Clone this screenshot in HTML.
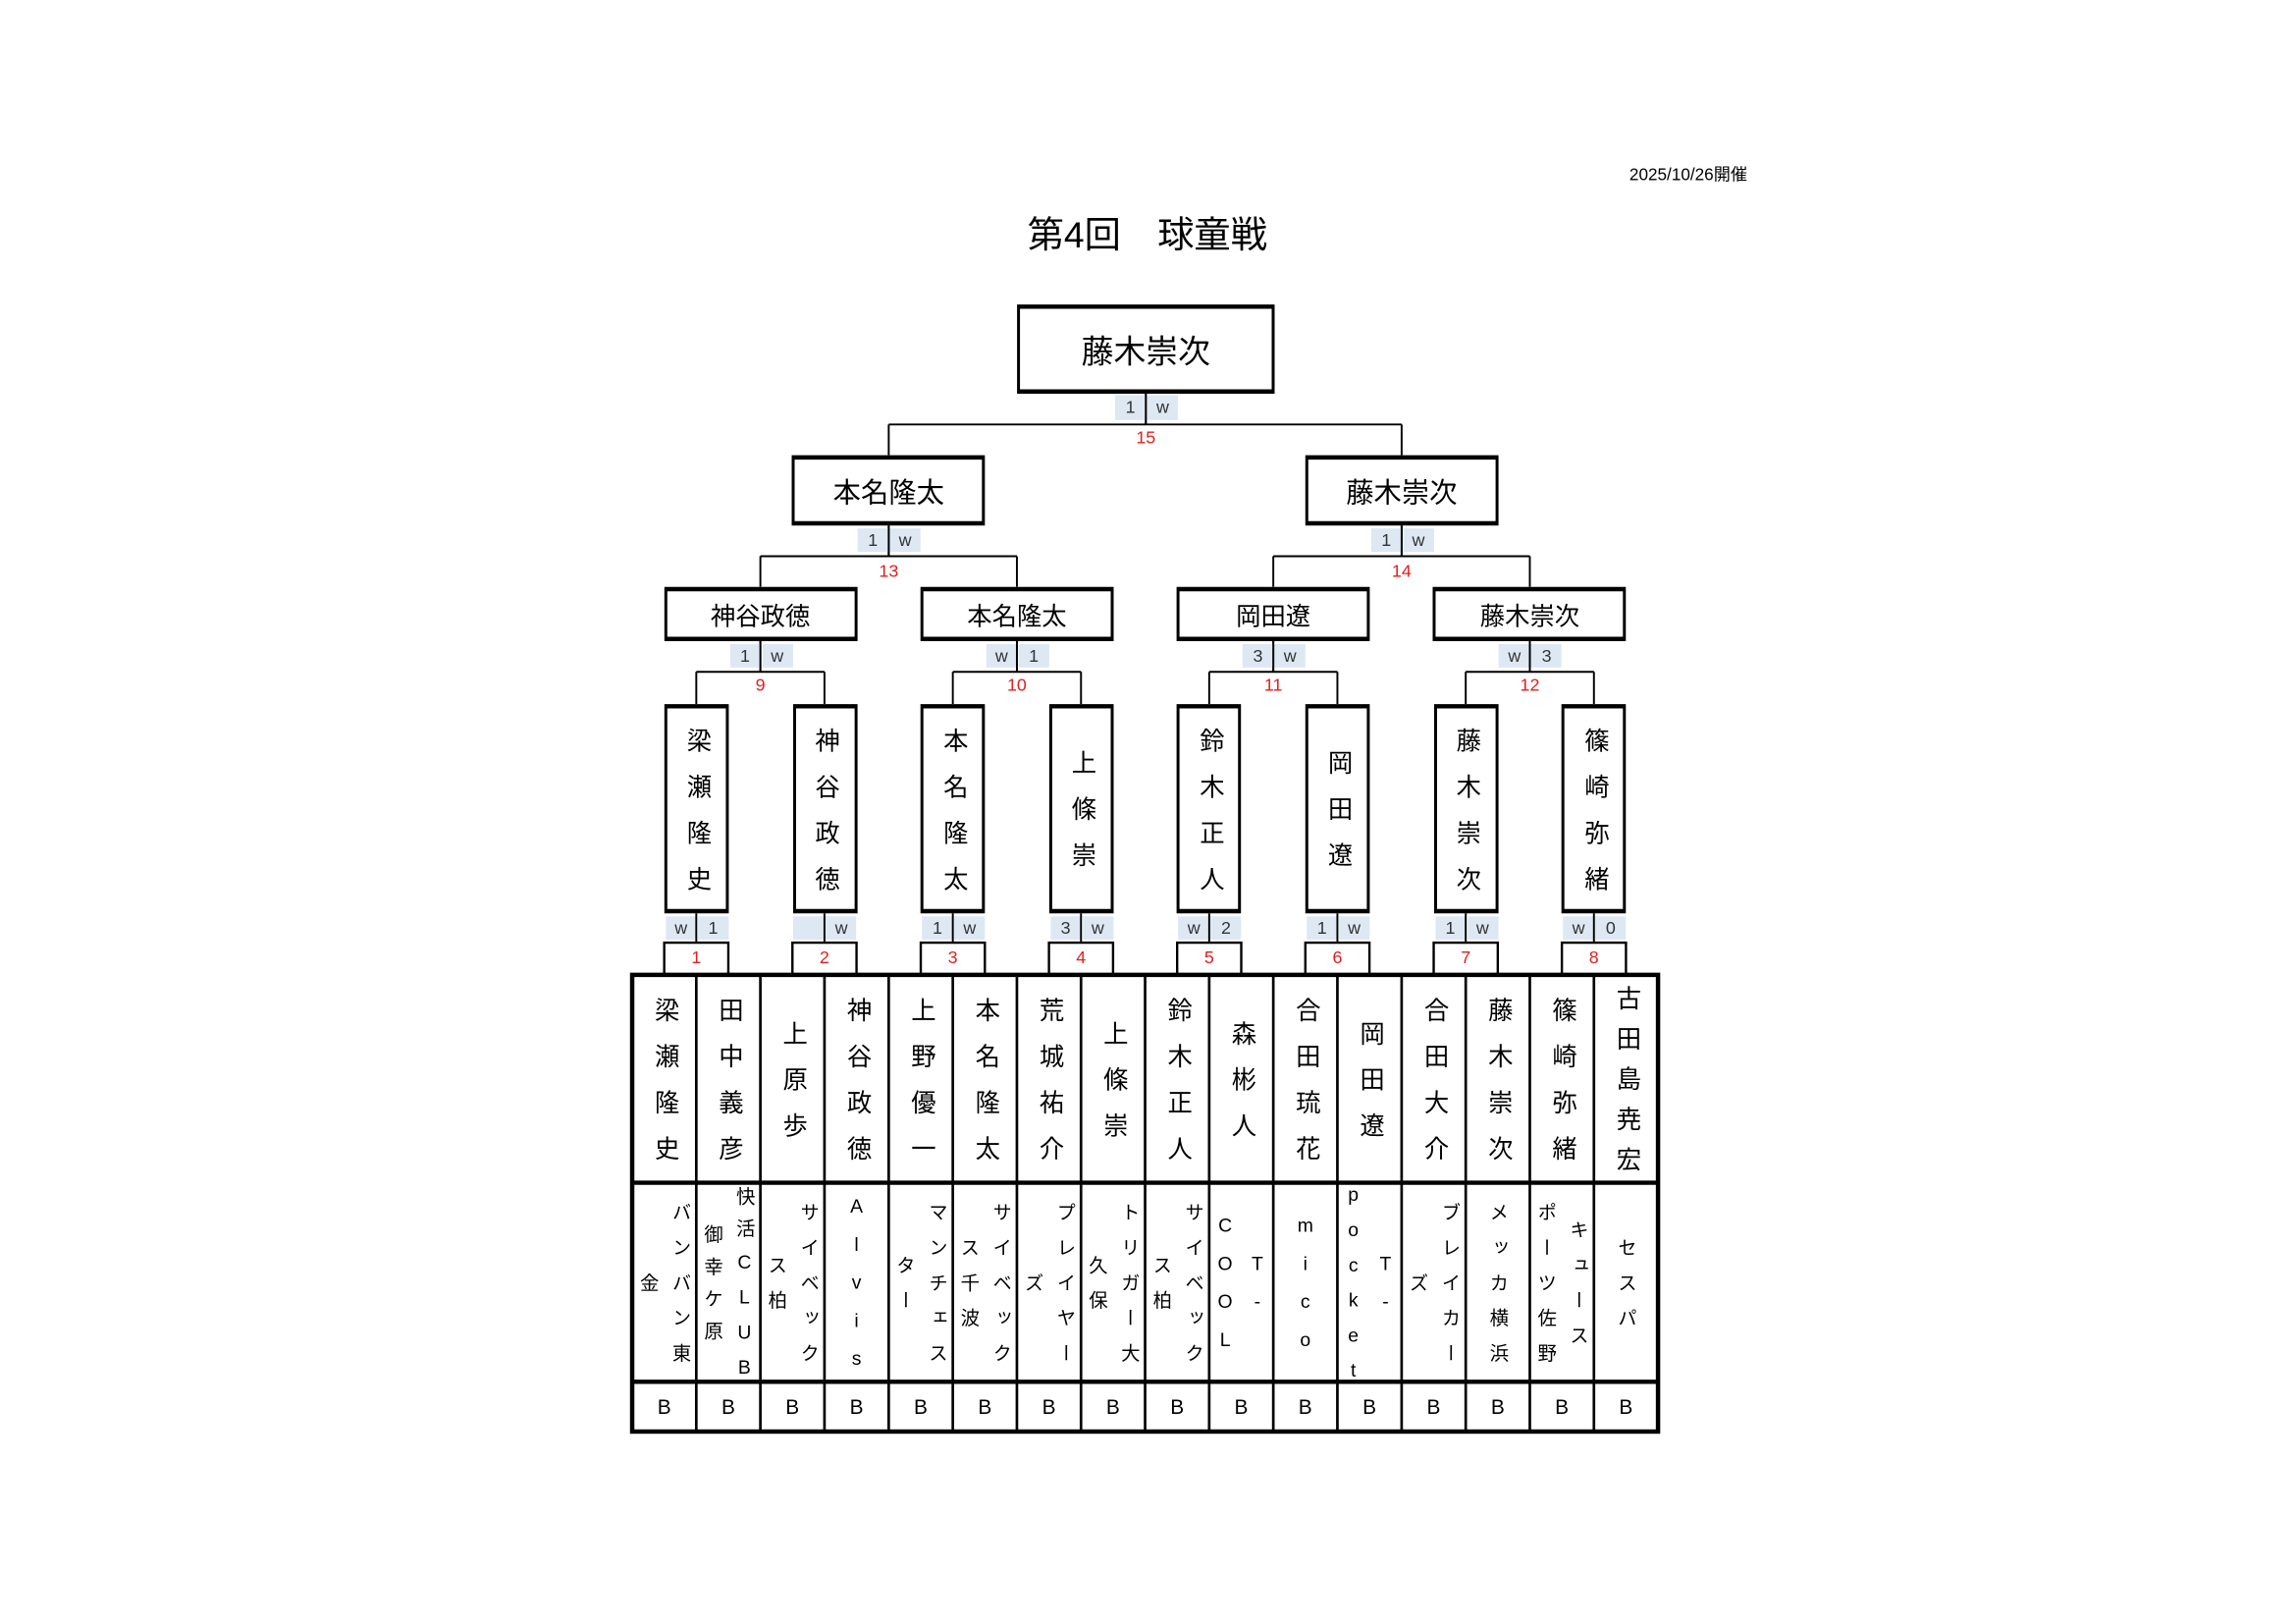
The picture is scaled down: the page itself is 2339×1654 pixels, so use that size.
<!DOCTYPE html>
<html><head><meta charset="utf-8">
<style>
html,body{margin:0;padding:0;background:#fff;width:2339px;height:1654px;overflow:hidden}
#c{position:absolute;left:0;top:0;width:1560px;height:1103px;transform:scale(1.4908);transform-origin:0 0;font-family:"Liberation Sans","Noto Sans CJK JP",sans-serif;color:#000}
.a{position:absolute}
.bx{position:absolute;box-sizing:border-box;border-style:solid;border-color:#000;border-width:3px 2.4px;background:#fff;display:flex;align-items:center;justify-content:center;overflow:visible}
.v{writing-mode:vertical-rl;text-orientation:upright;line-height:1;white-space:nowrap}
.cell{position:absolute;display:flex;align-items:center;justify-content:center}
.sc{position:absolute;background:#dde8f3;font-size:12px;color:#333;text-align:center;line-height:16px;height:16px;width:21px}
.r{position:absolute;color:#e02020;font-size:12px;text-align:center;width:30px;line-height:14px}
.t{font-size:13px;letter-spacing:11px;transform:translateY(5.5px)}
.t6{font-size:13px;letter-spacing:9px;transform:translateY(4.5px)}
.n{font-size:17px;letter-spacing:14.5px;transform:translateY(7.25px)}
.n5{font-size:17px;letter-spacing:10.5px;transform:translateY(5.25px)}
.b{position:absolute;font-size:14px;text-align:center;width:43.8px;top:944px;line-height:34px}
</style></head><body><div id="c">

<div class="a" style="left:1080px;top:111px;width:114px;text-align:right;font-size:11.5px">2025/10/26開催</div>
<div class="a" style="left:600px;top:141px;width:368px;text-align:center;font-size:25px">第4回　球童戦</div>

<svg class="a" style="left:0;top:0" width="1560" height="1103" viewBox="0 0 1560 1103">
<g stroke="#000" stroke-width="1.3" fill="none">
<path d="M783 268V290M607.3 290H957.8M607.3 290V311M957.8 290V311"/>
<path d="M607.3 358V380M519.6 380H694.9M519.6 380V401M694.9 380V401"/>
<path d="M957.8 358V380M870.1 380H1045.4M870.1 380V401M1045.4 380V401"/>
<path d="M519.6 437V459M694.9 437V459M870.1 437V459M1045.4 437V459"/>
<path d="M475.8 459H563.4M651.1 459H738.7M826.3 459H913.9M1001.6 459H1089.2"/>
<path d="M475.8 459V481M563.4 459V481M651.1 459V481M738.7 459V481M826.3 459V481M913.9 459V481M1001.6 459V481M1089.2 459V481"/>
</g>
<g stroke="#000" stroke-width="1.6" fill="none">
<rect x="453.9" y="644" width="43.8" height="22"/>
<rect x="541.5" y="644" width="43.8" height="22"/>
<rect x="629.2" y="644" width="43.8" height="22"/>
<rect x="716.8" y="644" width="43.8" height="22"/>
<rect x="804.4" y="644" width="43.8" height="22"/>
<rect x="892" y="644" width="43.8" height="22"/>
<rect x="979.7" y="644" width="43.8" height="22"/>
<rect x="1067.3" y="644" width="43.8" height="22"/>
</g>
<g stroke="#000" stroke-width="1.8">
<path d="M475.8 666V978M519.6 666V978M563.4 666V978M607.3 666V978M651.1 666V978M694.9 666V978M738.7 666V978M782.5 666V978M826.3 666V978M870.1 666V978M913.9 666V978M957.8 666V978M1001.6 666V978M1045.4 666V978M1089.2 666V978"/>
</g>
<g stroke="#000" stroke-width="3" fill="none">
<rect x="432" y="666" width="701" height="312"/>
<path d="M432 808H1133M432 944H1133"/>
</g>
</svg>

<div class="sc" style="left:762px;top:270px;height:17px">1</div><div class="sc" style="left:784px;top:270px;height:17px">w</div>
<div class="sc" style="left:586px;top:361px">1</div><div class="sc" style="left:608px;top:361px">w</div>
<div class="sc" style="left:936.8px;top:361px">1</div><div class="sc" style="left:958.8px;top:361px">w</div>
<div class="sc" style="left:498.6px;top:440px">1</div><div class="sc" style="left:520.6px;top:440px">w</div>
<div class="sc" style="left:673.9px;top:440px">w</div><div class="sc" style="left:695.9px;top:440px">1</div>
<div class="sc" style="left:849.1px;top:440px">3</div><div class="sc" style="left:871.1px;top:440px">w</div>
<div class="sc" style="left:1024.4px;top:440px">w</div><div class="sc" style="left:1046.4px;top:440px">3</div>
<div class="sc" style="left:454.8px;top:626px">w</div><div class="sc" style="left:476.8px;top:626px">1</div>
<div class="sc" style="left:542.4px;top:626px"></div><div class="sc" style="left:564.4px;top:626px">w</div>
<div class="sc" style="left:630.1px;top:626px">1</div><div class="sc" style="left:652.1px;top:626px">w</div>
<div class="sc" style="left:717.7px;top:626px">3</div><div class="sc" style="left:739.7px;top:626px">w</div>
<div class="sc" style="left:805.3px;top:626px">w</div><div class="sc" style="left:827.3px;top:626px">2</div>
<div class="sc" style="left:892.9px;top:626px">1</div><div class="sc" style="left:914.9px;top:626px">w</div>
<div class="sc" style="left:980.6px;top:626px">1</div><div class="sc" style="left:1002.6px;top:626px">w</div>
<div class="sc" style="left:1068.2px;top:626px">w</div><div class="sc" style="left:1090.2px;top:626px">0</div>
<svg class="a" style="left:0;top:0" width="1560" height="1103"><g stroke="#000" stroke-width="1.3"><path d="M783 268V290M607.3 358V380M957.8 358V380M519.6 437V459M694.9 437V459M870.1 437V459M1045.4 437V459M475.8 623V644M563.4 623V644M651.1 623V644M738.7 623V644M826.3 623V644M913.9 623V644M1001.6 623V644M1089.2 623V644"/></g></svg>

<div class="r" style="left:768px;top:292px">15</div>
<div class="r" style="left:592.3px;top:383px">13</div>
<div class="r" style="left:942.8px;top:383px">14</div>
<div class="r" style="left:504.6px;top:461px">9</div>
<div class="r" style="left:679.9px;top:461px">10</div>
<div class="r" style="left:855.1px;top:461px">11</div>
<div class="r" style="left:1030.4px;top:461px">12</div>
<div class="r" style="left:460.8px;top:647px">1</div>
<div class="r" style="left:548.4px;top:647px">2</div>
<div class="r" style="left:636.1px;top:647px">3</div>
<div class="r" style="left:723.7px;top:647px">4</div>
<div class="r" style="left:811.3px;top:647px">5</div>
<div class="r" style="left:898.9px;top:647px">6</div>
<div class="r" style="left:986.6px;top:647px">7</div>
<div class="r" style="left:1074.2px;top:647px">8</div>

<div class="bx" style="left:695px;top:208px;width:176px;height:61px;font-size:22px">藤木崇次</div>
<div class="bx" style="left:541.3px;top:311px;width:132px;height:48px;font-size:19px">本名隆太</div>
<div class="bx" style="left:891.8px;top:311px;width:132px;height:48px;font-size:19px">藤木崇次</div>
<div class="bx" style="left:453.6px;top:401px;width:132px;height:37px;font-size:17px">神谷政徳</div>
<div class="bx" style="left:628.9px;top:401px;width:132px;height:37px;font-size:17px">本名隆太</div>
<div class="bx" style="left:804.1px;top:401px;width:132px;height:37px;font-size:17px">岡田遼</div>
<div class="bx" style="left:979.4px;top:401px;width:132px;height:37px;font-size:17px">藤木崇次</div>

<div class="bx" style="left:453.9px;top:481px;width:44px;height:143px"><div class="v n">梁瀬隆史</div></div>
<div class="bx" style="left:541.5px;top:481px;width:44px;height:143px"><div class="v n">神谷政徳</div></div>
<div class="bx" style="left:629.2px;top:481px;width:44px;height:143px"><div class="v n">本名隆太</div></div>
<div class="bx" style="left:716.8px;top:481px;width:44px;height:143px"><div class="v n">上條崇</div></div>
<div class="bx" style="left:804.4px;top:481px;width:44px;height:143px"><div class="v n">鈴木正人</div></div>
<div class="bx" style="left:892px;top:481px;width:44px;height:143px"><div class="v n">岡田遼</div></div>
<div class="bx" style="left:979.7px;top:481px;width:44px;height:143px"><div class="v n">藤木崇次</div></div>
<div class="bx" style="left:1067.3px;top:481px;width:44px;height:143px"><div class="v n">篠崎弥緒</div></div>

<div class="cell" style="left:432px;top:666px;width:43.8px;height:142px"><div class="v n">梁瀬隆史</div></div>
<div class="cell" style="left:475.8px;top:666px;width:43.8px;height:142px"><div class="v n">田中義彦</div></div>
<div class="cell" style="left:519.6px;top:666px;width:43.8px;height:142px"><div class="v n">上原歩</div></div>
<div class="cell" style="left:563.4px;top:666px;width:43.8px;height:142px"><div class="v n">神谷政徳</div></div>
<div class="cell" style="left:607.3px;top:666px;width:43.8px;height:142px"><div class="v n">上野優一</div></div>
<div class="cell" style="left:651.1px;top:666px;width:43.8px;height:142px"><div class="v n">本名隆太</div></div>
<div class="cell" style="left:694.9px;top:666px;width:43.8px;height:142px"><div class="v n">荒城祐介</div></div>
<div class="cell" style="left:738.7px;top:666px;width:43.8px;height:142px"><div class="v n">上條崇</div></div>
<div class="cell" style="left:782.5px;top:666px;width:43.8px;height:142px"><div class="v n">鈴木正人</div></div>
<div class="cell" style="left:826.3px;top:666px;width:43.8px;height:142px"><div class="v n">森彬人</div></div>
<div class="cell" style="left:870.1px;top:666px;width:43.8px;height:142px"><div class="v n">合田琉花</div></div>
<div class="cell" style="left:913.9px;top:666px;width:43.8px;height:142px"><div class="v n">岡田遼</div></div>
<div class="cell" style="left:957.8px;top:666px;width:43.8px;height:142px"><div class="v n">合田大介</div></div>
<div class="cell" style="left:1001.6px;top:666px;width:43.8px;height:142px"><div class="v n">藤木崇次</div></div>
<div class="cell" style="left:1045.4px;top:666px;width:43.8px;height:142px"><div class="v n">篠崎弥緒</div></div>
<div class="cell" style="left:1089.2px;top:666px;width:43.8px;height:142px"><div class="v n5">古田島尭宏</div></div>

<div class="cell" style="left:432px;top:808px;width:43.8px;height:136px;gap:9px"><div class="v t">金</div><div class="v t">バンバン東</div></div>
<div class="cell" style="left:475.8px;top:808px;width:43.8px;height:136px;gap:9px"><div class="v t6">御幸ケ原</div><div class="v t6">快活CLUB</div></div>
<div class="cell" style="left:519.6px;top:808px;width:43.8px;height:136px;gap:9px"><div class="v t">ス柏</div><div class="v t">サイベック</div></div>
<div class="cell" style="left:563.4px;top:808px;width:43.8px;height:136px"><div class="v t">Alvis</div></div>
<div class="cell" style="left:607.3px;top:808px;width:43.8px;height:136px;gap:9px"><div class="v t">ター</div><div class="v t">マンチェス</div></div>
<div class="cell" style="left:651.1px;top:808px;width:43.8px;height:136px;gap:9px"><div class="v t">ス千波</div><div class="v t">サイベック</div></div>
<div class="cell" style="left:694.9px;top:808px;width:43.8px;height:136px;gap:9px"><div class="v t">ズ</div><div class="v t">プレイヤー</div></div>
<div class="cell" style="left:738.7px;top:808px;width:43.8px;height:136px;gap:9px"><div class="v t">久保</div><div class="v t">トリガー大</div></div>
<div class="cell" style="left:782.5px;top:808px;width:43.8px;height:136px;gap:9px"><div class="v t">ス柏</div><div class="v t">サイベック</div></div>
<div class="cell" style="left:826.3px;top:808px;width:43.8px;height:136px;gap:9px"><div class="v t">COOL</div><div class="v t">T-</div></div>
<div class="cell" style="left:870.1px;top:808px;width:43.8px;height:136px"><div class="v t">mico</div></div>
<div class="cell" style="left:913.9px;top:808px;width:43.8px;height:136px;gap:9px"><div class="v t6">pocket</div><div class="v t">T-</div></div>
<div class="cell" style="left:957.8px;top:808px;width:43.8px;height:136px;gap:9px"><div class="v t">ズ</div><div class="v t">ブレイカー</div></div>
<div class="cell" style="left:1001.6px;top:808px;width:43.8px;height:136px"><div class="v t">メッカ横浜</div></div>
<div class="cell" style="left:1045.4px;top:808px;width:43.8px;height:136px;gap:9px"><div class="v t">ポーツ佐野</div><div class="v t">キュース</div></div>
<div class="cell" style="left:1089.2px;top:808px;width:43.8px;height:136px"><div class="v t">セスパ</div></div>

<div class="b" style="left:432px">B</div><div class="b" style="left:475.8px">B</div><div class="b" style="left:519.6px">B</div><div class="b" style="left:563.4px">B</div>
<div class="b" style="left:607.3px">B</div><div class="b" style="left:651.1px">B</div><div class="b" style="left:694.9px">B</div><div class="b" style="left:738.7px">B</div>
<div class="b" style="left:782.5px">B</div><div class="b" style="left:826.3px">B</div><div class="b" style="left:870.1px">B</div><div class="b" style="left:913.9px">B</div>
<div class="b" style="left:957.8px">B</div><div class="b" style="left:1001.6px">B</div><div class="b" style="left:1045.4px">B</div><div class="b" style="left:1089.2px">B</div>

</div></body></html>
